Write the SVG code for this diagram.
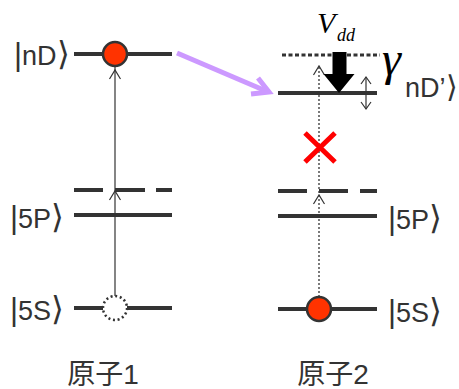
<svg xmlns="http://www.w3.org/2000/svg" width="459" height="389" viewBox="0 0 459 389">
<style>
.lvl{stroke:#333;stroke-width:4;fill:none}
.dash{stroke:#333;stroke-width:4;fill:none}
.thin{stroke:#333;stroke-width:1.2;fill:none}
.dot{stroke:#333;stroke-width:1.3;fill:none;stroke-dasharray:2 2}
.lbl{font-family:"Liberation Sans","DejaVu Sans",sans-serif;font-size:27px;fill:#333}
.br{font-family:"DejaVu Sans",sans-serif;font-size:33px;font-weight:200}
.cjk{font-family:"Liberation Sans","Noto Sans CJK JP",sans-serif;font-size:28px;fill:#333}
.ser{font-family:"Liberation Serif",serif;font-style:italic;fill:#000}
</style>
<rect width="459" height="389" fill="#fff"/>
<g id="atom1">
<line class="lvl" x1="74" y1="54" x2="172" y2="54"/>
<path class="dash" d="M74 190H103M115 190H145M156 190H172"/>
<line class="lvl" x1="74" y1="215" x2="172" y2="215"/>
<line class="lvl" x1="74" y1="308" x2="103" y2="308"/>
<line class="lvl" x1="127" y1="308" x2="172" y2="308"/>
<line class="thin" x1="115" y1="296" x2="115" y2="67"/>
<path class="thin" d="M109.5 79L115 70L120.5 79M109.5 200L115 191L120.5 200"/>
<circle cx="115" cy="54" r="12" fill="#ff3300" stroke="#333" stroke-width="2.5"/>
<circle cx="115" cy="308" r="12" fill="#fff" stroke="#333" stroke-width="2.5" stroke-dasharray="2 2.7"/>
<text class="lbl" x="14" y="65"><tspan font-size="31">|</tspan>nD<tspan class="br">⟩</tspan></text>
<text class="lbl" x="10" y="228"><tspan font-size="31">|</tspan>5P<tspan class="br">⟩</tspan></text>
<text class="lbl" x="10" y="320"><tspan font-size="31">|</tspan>5S<tspan class="br">⟩</tspan></text>
<text class="cjk" x="103" y="384" text-anchor="middle">原子1</text>
</g>
<g id="atom2">
<path d="M282 55H380" stroke="#333" stroke-width="3" stroke-dasharray="4 2.5" fill="none"/>
<line class="lvl" x1="278" y1="93" x2="377" y2="93"/>
<path class="dash" d="M278 191H307M319 191H348M360 191H377"/>
<line class="lvl" x1="278" y1="216" x2="377" y2="216"/>
<line class="lvl" x1="278" y1="309" x2="377" y2="309"/>
<line class="dot" x1="319" y1="297" x2="319" y2="66"/>
<path class="thin" d="M313.5 75L319 66L324.5 75M313.5 204L319 195L324.5 204"/>
<circle cx="319" cy="309" r="12" fill="#ff3300" stroke="#333" stroke-width="2.5"/>
<path d="M332.5 52H346.5V74H354.5L339 93L323.5 74H332.5Z" fill="#000"/>
<line class="thin" x1="366" y1="77" x2="366" y2="109"/>
<path class="thin" d="M361 84L366 77L371 84M361 102L366 109L371 102"/>
<text class="ser" x="317" y="33" font-size="30">V</text>
<text class="ser" x="337" y="41" font-size="18">dd</text>
<text class="ser" x="382" y="75" font-size="48">γ</text>
<text class="lbl" x="405" y="97" style="font-size:27px">nD’<tspan class="br" style="font-size:30px">⟩</tspan></text>
<text class="lbl" x="388" y="229"><tspan font-size="31">|</tspan>5P<tspan class="br">⟩</tspan></text>
<text class="lbl" x="388" y="322"><tspan font-size="31">|</tspan>5S<tspan class="br">⟩</tspan></text>
<text class="cjk" x="333" y="384" text-anchor="middle">原子2</text>
<path d="M305 133L335 162M335 133L305 162" stroke="#ff0000" stroke-width="5" fill="none"/>
</g>
<g id="connectors">
<line x1="177" y1="53" x2="266" y2="91" stroke="#cc99ff" stroke-width="5"/>
<path d="M258 78L269 92L251 94" stroke="#cc99ff" stroke-width="5" fill="none" stroke-linejoin="miter"/>
</g>
</svg>
